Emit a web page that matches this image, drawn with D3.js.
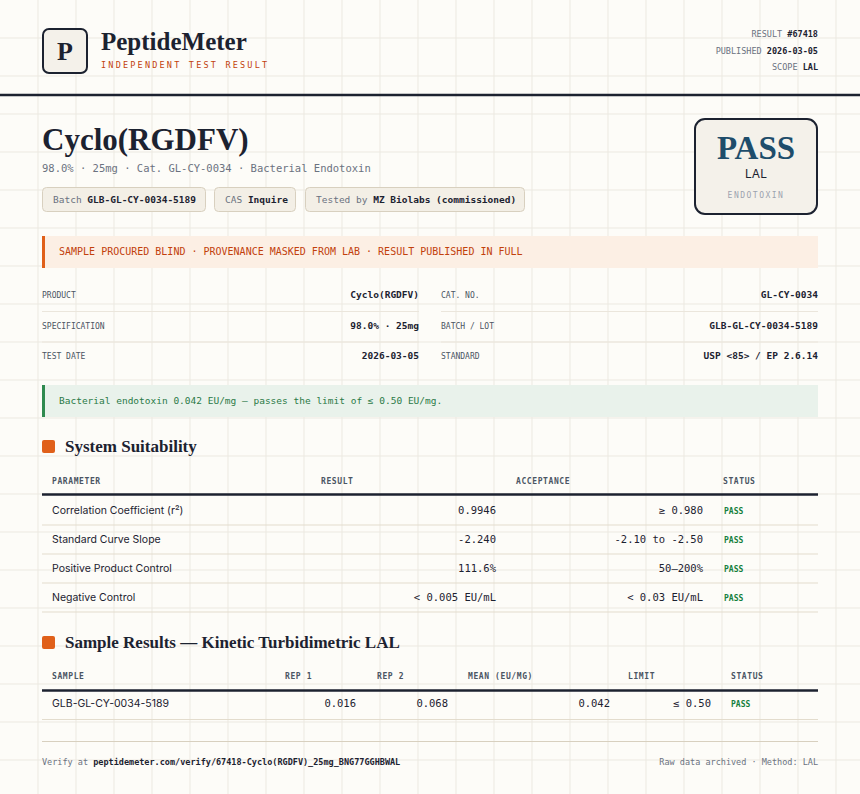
<!DOCTYPE html><html><head><meta charset="utf-8"><script src="https://cdn.jsdelivr.net/npm/d3@7"></script>
<style>body{margin:0;background:#fdfcf8}</style></head><body><svg id="c" width="860" height="794"></svg><script>
const metaLabels=["RESULT","PUBLISHED","SCOPE"], metaValues=["#67418","2026-03-05","LAL"];
const chips=[["Batch ","GLB-GL-CY-0034-5189"],["CAS ","Inquire"],["Tested by ","MZ Biolabs (commissioned)"]];
const infoLeft=[["PRODUCT","Cyclo(RGDFV)"],["SPECIFICATION","98.0% · 25mg"],["TEST DATE","2026-03-05"]];
const infoRight=[["CAT. NO.","GL-CY-0034"],["BATCH / LOT","GLB-GL-CY-0034-5189"],["STANDARD","USP <85> / EP 2.6.14"]];
const suitHeaders=["PARAMETER","RESULT","ACCEPTANCE","STATUS"];
const suitParams=["Correlation Coefficient (r²)","Standard Curve Slope","Positive Product Control","Negative Control"];
const suitResults=["0.9946","-2.240","111.6%","< 0.005 EU/mL"];
const suitAccept=["≥ 0.980","-2.10 to -2.50","50–200%","< 0.03 EU/mL"];
const suitStatus=["PASS","PASS","PASS","PASS"];
const sampHeaders=["SAMPLE","REP 1","REP 2","MEAN (EU/MG)","LIMIT","STATUS"];
const sampRow=["GLB-GL-CY-0034-5189","0.016","0.068","0.042","≤ 0.50","PASS"];

const svg=d3.select("#c"),W=860,H=794;
const DK="#1c2230",OR="#c2410c",GR="#6b7280",GN="#15803d",SER="'Liberation Serif',serif",MONO="'DejaVu Sans Mono',monospace",SANS="Inter,'Noto Sans',sans-serif";
svg.append("rect").attr("width",W).attr("height",H).attr("fill","#fdfcf8");
const gx=d3.range(38,W,38),gy=d3.range(38,H,38);
svg.selectAll(".gx").data(gx).join("line").attr("x1",d=>d).attr("x2",d=>d).attr("y1",0).attr("y2",H).attr("stroke","#ece9e1");
svg.selectAll(".gy").data(gy).join("line").attr("y1",d=>d).attr("y2",d=>d).attr("x1",0).attr("x2",W).attr("stroke","#ece9e1");
function T(x,y,s,o={}){const t=svg.append("text").attr("x",x).attr("y",y).text(s).attr("font-family",o.f||MONO).attr("font-size",o.s||10).attr("fill",o.c||DK).attr("font-weight",o.w||"normal").attr("text-anchor",o.a||"start");if(o.ls)t.attr("letter-spacing",o.ls);return t;}
function R(x,y,w,h,o={}){return svg.append("rect").attr("x",x).attr("y",y).attr("width",w).attr("height",h).attr("rx",o.r||0).attr("fill",o.f||"none").attr("stroke",o.s||"none").attr("stroke-width",o.sw||1);}
// header
R(43,29,44,44,{r:6,f:"#f4f1ea",s:DK,sw:2});
T(65,60,"P",{f:SER,s:26,w:"bold",a:"middle"});
T(101,50,"PeptideMeter",{f:SER,s:25,w:"bold"});
T(101,68,"INDEPENDENT TEST RESULT",{s:8.5,c:OR,ls:2.2});
const my=d3.scalePoint().domain(metaLabels).range([37,70]);
metaLabels.forEach((l,i)=>{const t=T(818,my(l),"",{s:8.5,a:"end"});t.append("tspan").text(l+" ").attr("fill",GR);t.append("tspan").text(metaValues[i]).attr("font-weight","bold");});
svg.append("line").attr("x1",0).attr("x2",W).attr("y1",95).attr("y2",95).attr("stroke",DK).attr("stroke-width",2.5);
// title
T(42,150,"Cyclo(RGDFV)",{f:SER,s:31,w:"bold"});
T(42,172,"98.0% · 25mg · Cat. GL-CY-0034 · Bacterial Endotoxin",{s:10.5,c:GR});
const chipX=[42,214,305],chipW=[163,81,219];
chips.forEach((c,i)=>{R(chipX[i]+0.5,187.5,chipW[i],24,{r:4,f:"#f3efe6",s:"#d8d0bf"});const t=T(chipX[i]+11,203,"",{s:9.5});t.append("tspan").text(c[0]).attr("fill",GR);t.append("tspan").text(c[1]).attr("font-weight","bold");});
R(695,119,122,95,{r:10,f:"#f4f1ea",s:DK,sw:2});
T(756,159,"PASS",{f:SER,s:33,w:"bold",c:"#1e4d6b",a:"middle"});
T(756,178,"LAL",{f:SANS,s:12,a:"middle"});
T(756,198,"ENDOTOXIN",{s:8,c:"#9ca3af",a:"middle",ls:1.5});
// banner
R(42,236,776,32,{f:"#fcefe4"});R(42,236,3,32,{f:"#e0601a"});
T(59,255,"SAMPLE PROCURED BLIND · PROVENANCE MASKED FROM LAB · RESULT PUBLISHED IN FULL",{s:10,c:OR});
// info
const iy=d3.scalePoint().domain([0,1,2]).range([298,359]);
[[infoLeft,42,419],[infoRight,441,818]].forEach(([rows,x0,x1])=>{rows.forEach((r,i)=>{T(x0,iy(i),r[0],{s:8,c:"#4b5563"});T(x1,iy(i),r[1],{s:9.5,w:"bold",a:"end"});
 if(i<2)svg.append("line").attr("x1",x0).attr("x2",x1).attr("y1",iy(i)+13.5).attr("y2",iy(i)+13.5).attr("stroke","#ebe6dc");});});
R(42,385,776,32,{f:"#e9f2eb"});R(42,385,3,32,{f:"#2f8a4f"});
T(59,404,"Bacterial endotoxin 0.042 EU/mg — passes the limit of ≤ 0.50 EU/mg.",{s:9.5,c:"#2b7a47"});
// section 1
function sec(y,s){R(42,y,13,13,{r:2,f:"#e0601a"});T(65,y+12,s,{f:SER,s:17,w:"bold"});}
sec(440,"System Suitability");
const hx=[52,321,516,723];
suitHeaders.forEach((h,i)=>T(hx[i],484,h,{s:8,w:"bold",c:"#4b5563",ls:0.6}));
svg.append("line").attr("x1",42).attr("x2",818).attr("y1",494.5).attr("y2",494.5).attr("stroke",DK).attr("stroke-width",2.5);
const ry=d3.scaleBand().domain(suitParams).range([496,612]);
suitParams.forEach((p,i)=>{const b=ry(p)+ry.bandwidth()/2+3;
 T(52,b,p,{f:SANS,s:10.5});T(496,b,suitResults[i],{s:10.5,a:"end"});T(703,b,suitAccept[i],{s:10.5,a:"end"});T(724,b,suitStatus[i],{s:8,w:"bold",c:GN});
 svg.append("line").attr("x1",42).attr("x2",818).attr("y1",ry(p)+ry.bandwidth()).attr("y2",ry(p)+ry.bandwidth()).attr("stroke","#e3dccd");});
// section 2
sec(636,"Sample Results — Kinetic Turbidimetric LAL");
const sx=[52,285,377,468,628,731];
sampHeaders.forEach((h,i)=>T(sx[i],679,h,{s:8,w:"bold",c:"#4b5563",ls:0.6}));
svg.append("line").attr("x1",42).attr("x2",818).attr("y1",690.5).attr("y2",690.5).attr("stroke",DK).attr("stroke-width",2.5);
const vx=[52,356,448,610,711,731],va=["start","end","end","end","end","start"];
sampRow.forEach((v,i)=>{if(i==0)T(52,707,v,{f:SANS,s:10.5});else if(i==5)T(731,707,v,{s:8,w:"bold",c:GN});else T(vx[i],707,v,{s:10.5,a:va[i]});});
svg.append("line").attr("x1",42).attr("x2",818).attr("y1",719.5).attr("y2",719.5).attr("stroke","#e3dccd");
svg.append("line").attr("x1",42).attr("x2",818).attr("y1",741.5).attr("y2",741.5).attr("stroke","#d8d0bf");
const ft=T(42,765,"",{s:8.5});ft.append("tspan").text("Verify at ").attr("fill",GR);ft.append("tspan").text("peptidemeter.com/verify/67418-Cyclo(RGDFV)_25mg_BNG77GGHBWAL").attr("font-weight","bold");
T(818,765,"Raw data archived · Method: LAL",{s:8.5,c:GR,a:"end"});
</script></body></html>
